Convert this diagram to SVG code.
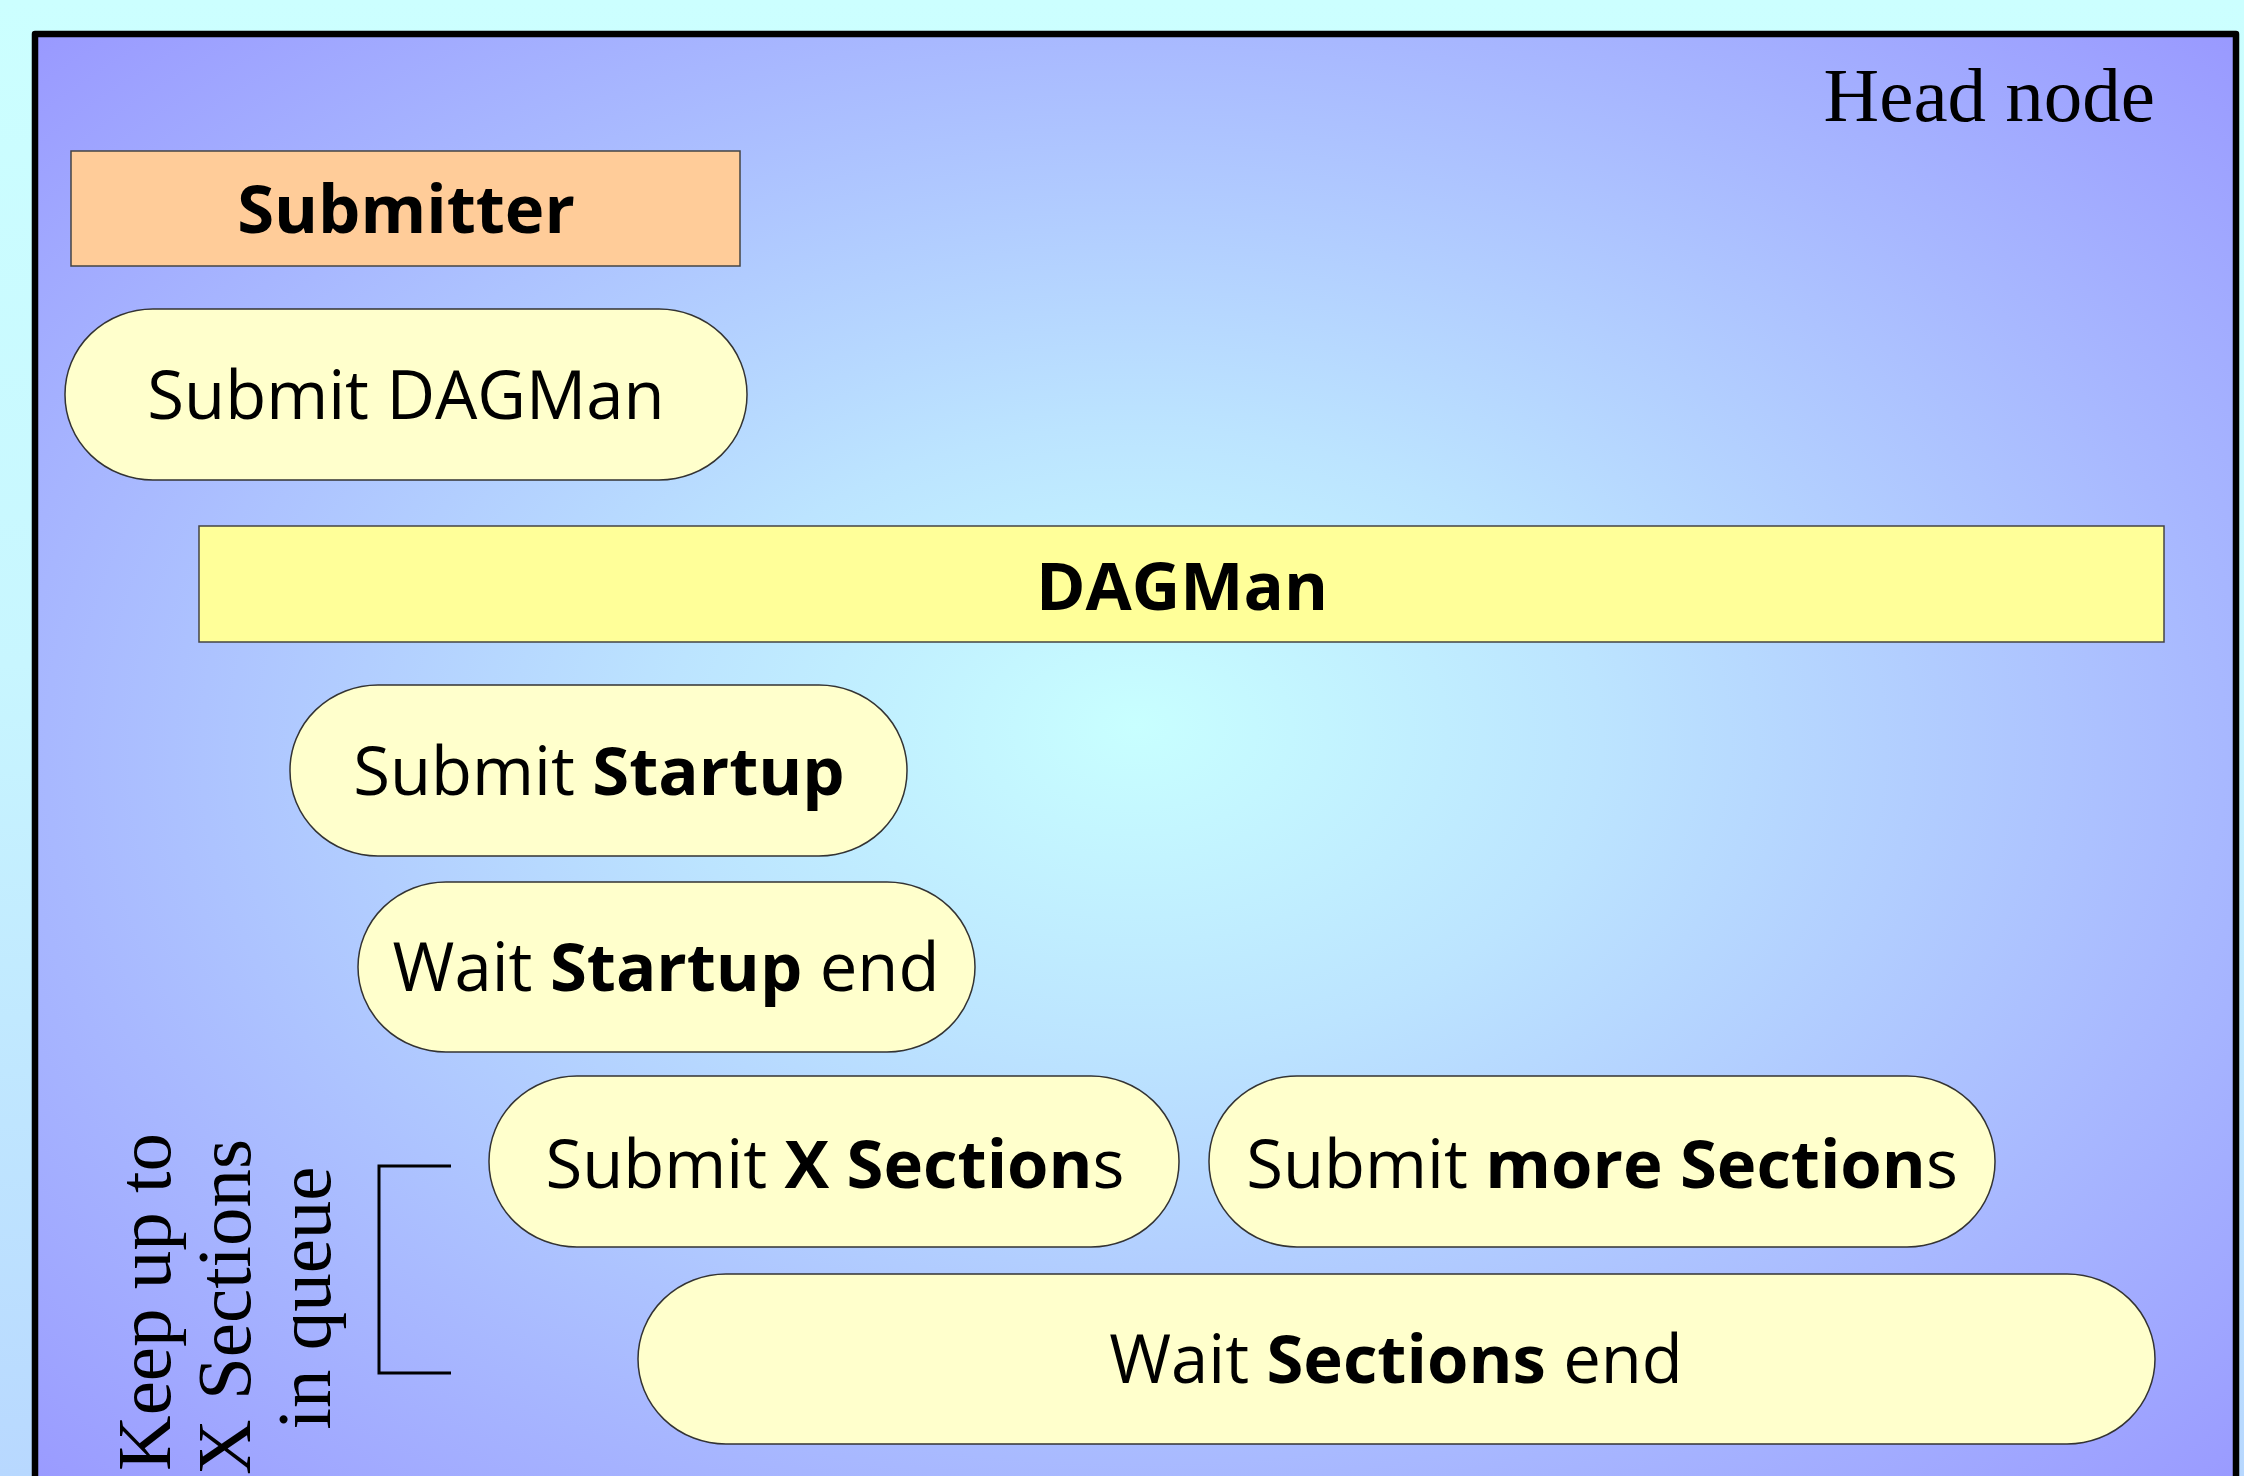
<svg xmlns="http://www.w3.org/2000/svg" width="2244" height="1476" viewBox="0 0 2244 1476">
  <defs>
    <linearGradient id="pageBg" x1="0" y1="0" x2="0" y2="1">
      <stop offset="0" stop-color="#CCFFFF"/>
      <stop offset="0.45" stop-color="#C8F6FF"/>
      <stop offset="1" stop-color="#B8D8FF"/>
    </linearGradient>
    <radialGradient id="headBg" cx="0.5" cy="0.5" r="0.707" fx="0.5" fy="0.47">
      <stop offset="0" stop-color="#C8FFFF"/>
      <stop offset="0.3" stop-color="#BCE4FF"/>
      <stop offset="0.7" stop-color="#A8B8FF"/>
      <stop offset="1" stop-color="#9999FF"/>
    </radialGradient>
  </defs>
  <style>
    .sans { font-family: "Open Sans", "Noto Sans", "DejaVu Sans", sans-serif; font-size: 67px; fill: #000; }
    .serif { font-family: "Liberation Serif", "DejaVu Serif", serif; font-size: 77px; fill: #000; }
    .b { font-weight: bold; }
    .pill { fill: #FFFFCC; stroke: #333333; stroke-width: 1.5; }
    .conn { fill: none; stroke: #000; stroke-width: 3; }
  </style>

  <rect x="0" y="0" width="2244" height="1476" fill="url(#pageBg)"/>

  <g id="head-node">
    <rect x="35" y="34" width="2201" height="1470" fill="url(#headBg)" stroke="#000" stroke-width="6.5" stroke-linejoin="round"/>
    <text class="serif" x="2155" y="121" text-anchor="end">Head node</text>
  </g>

  <g id="submitter">
    <rect x="71" y="151" width="669" height="115" fill="#FFCC99" stroke="#444" stroke-width="1.5"/>
    <text class="sans b" x="406" y="233" text-anchor="middle">Submitter</text>
  </g>

  <g id="submit-dagman">
    <rect class="pill" x="65" y="309" width="682" height="171" rx="88" ry="85"/>
    <text class="sans" x="406" y="419" text-anchor="middle">Submit DAGMan</text>
  </g>

  <g id="dagman">
    <rect x="199" y="526" width="1965" height="116" fill="#FFFF99" stroke="#444" stroke-width="1.5"/>
    <text class="sans b" x="1182" y="610" text-anchor="middle">DAGMan</text>
  </g>

  <g id="submit-startup">
    <rect class="pill" x="290" y="685" width="617" height="171" rx="88" ry="85"/>
    <text class="sans" x="599" y="795" text-anchor="middle">Submit <tspan class="b">Startup</tspan></text>
  </g>

  <g id="wait-startup-end">
    <rect class="pill" x="358" y="882" width="617" height="170" rx="88" ry="85"/>
    <text class="sans" x="666" y="991" text-anchor="middle">Wait <tspan class="b">Startup</tspan> end</text>
  </g>

  <g id="submit-x-sections">
    <rect class="pill" x="489" y="1076" width="690" height="171" rx="88" ry="85"/>
    <text class="sans" x="835" y="1188" text-anchor="middle">Submit <tspan class="b">X Section</tspan>s</text>
  </g>

  <g id="submit-more-sections">
    <rect class="pill" x="1209" y="1076" width="786" height="171" rx="88" ry="85"/>
    <text class="sans" x="1602" y="1188" text-anchor="middle">Submit <tspan class="b">more Section</tspan>s</text>
  </g>

  <g id="wait-sections-end">
    <rect class="pill" x="638" y="1274" width="1517" height="170" rx="88" ry="85"/>
    <text class="sans" x="1396" y="1383" text-anchor="middle">Wait <tspan class="b">Sections</tspan> end</text>
  </g>

  <g id="queue-label">
    <text class="serif" transform="translate(170,1302) rotate(-90)" text-anchor="middle">Keep up to</text>
    <text class="serif" transform="translate(250,1307) rotate(-90)" text-anchor="middle">X Sections</text>
    <text class="serif" transform="translate(330,1298) rotate(-90)" text-anchor="middle">in queue</text>
  </g>

  <g id="connectors">
    <path class="conn" d="M451,1166 H379 V1373 H451"/>
  </g>
</svg>
